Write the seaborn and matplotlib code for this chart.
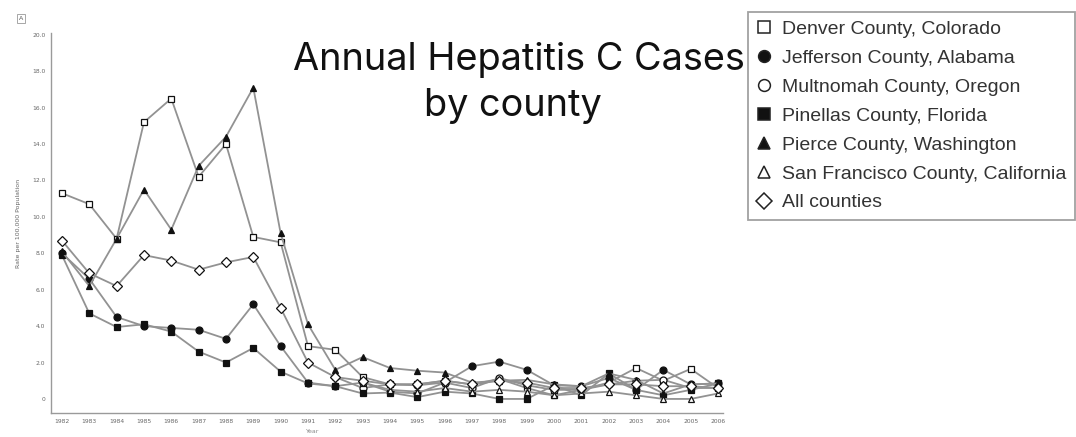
import numpy as np
import pandas as pd
import matplotlib
matplotlib.use("Agg")
import matplotlib.pyplot as plt
from matplotlib.lines import Line2D
import seaborn as sns

# Hepatitis C rate per 100,000 population, 1982-2006
years = list(range(1982, 2007))
nan = np.nan

denver = [11.3, 10.7, 8.8, 15.2, 16.5, 12.2, 14.0, 8.9, 8.6, 2.9, 2.7, 1.2, 0.8, 0.8,
          1.0, 0.8, 1.1, 0.6, 0.2, 0.5, 0.9, 1.7, 1.0, 1.65, 0.6]
jefferson = [8.0, 6.6, 4.5, 4.0, 3.9, 3.8, 3.3, 5.2, 2.9, 0.9, 0.7, 0.9, 0.4, 0.3,
             0.9, 1.8, 2.05, 1.6, 0.75, 0.7, 1.15, 0.5, 1.6, 0.8, 0.85]
multnomah = [nan, nan, nan, nan, nan, nan, nan, nan, nan, nan, 1.2, 0.6, 0.8, 0.75,
             0.9, 0.6, 1.15, 0.75, 0.5, 0.5, 0.8, 1.0, 1.05, 0.6, 0.6]
pinellas = [7.9, 4.7, 3.95, 4.1, 3.7, 2.6, 2.0, 2.8, 1.5, 0.85, 0.7, 0.3, 0.35, 0.1,
            0.4, 0.3, 0.0, 0.0, 0.75, 0.2, 1.4, 0.5, 0.2, 0.5, 0.85]
pierce = [8.1, 6.2, 8.8, 11.5, 9.3, 12.8, 14.4, 17.1, 9.1, 4.1, 1.6, 2.3, 1.7, 1.55,
          1.45, 0.9, 1.0, 1.05, 0.8, 0.7, 1.4, 1.05, 0.3, 0.8, 0.85]
san_francisco = [nan, nan, nan, nan, nan, nan, nan, nan, nan, nan, nan, 0.9, 0.5, 0.4,
                 0.6, 0.4, 0.5, 0.4, 0.2, 0.3, 0.4, 0.2, 0.0, 0.0, 0.3]
all_counties = [8.7, 6.9, 6.2, 7.9, 7.6, 7.1, 7.5, 7.8, 5.0, 2.0, 1.2, 1.0, 0.8, 0.8,
                1.0, 0.8, 1.0, 0.9, 0.6, 0.6, 0.8, 0.8, 0.7, 0.7, 0.6]

counties = ["Denver County, Colorado", "Jefferson County, Alabama",
            "Multnomah County, Oregon", "Pinellas County, Florida",
            "Pierce County, Washington", "San Francisco County, California",
            "All counties"]
series = [denver, jefferson, multnomah, pinellas, pierce, san_francisco, all_counties]

# marker shape, face colour, size for each county
styles = {
    "Denver County, Colorado": ("s", "white", 5.0),
    "Jefferson County, Alabama": ("o", "#111111", 5.0),
    "Multnomah County, Oregon": ("o", "white", 5.0),
    "Pinellas County, Florida": ("s", "#111111", 4.6),
    "Pierce County, Washington": ("^", "#111111", 4.6),
    "San Francisco County, California": ("^", "white", 4.6),
    "All counties": ("D", "white", 4.6),
}

df = pd.concat(
    [pd.DataFrame({"year": years, "rate": vals, "county": name})
     for name, vals in zip(counties, series)],
    ignore_index=True,
).dropna()

sns.set_style("white")
plt.rcParams["font.family"] = ["DejaVu Sans"]

fig = plt.figure(figsize=(10.76, 4.37), dpi=100)
ax = fig.add_axes([0.0474, 0.055, 0.6245, 0.8695])

line_gray = "#929292"
for name in counties:
    m, fc, ms = styles[name]
    sns.lineplot(data=df[df["county"] == name], x="year", y="rate", ax=ax,
                 color=line_gray, linewidth=1.3, marker=m, markersize=ms,
                 markerfacecolor=fc, markeredgecolor="#111111",
                 markeredgewidth=0.9, errorbar=None, legend=False)

ax.set_xlim(1981.6, 2006.18)
ax.set_ylim(-0.77, 20.1)
ax.set_xticks(years)
ax.set_xticklabels([str(y) for y in years], fontsize=4.3, color="#666666")
yticks = list(range(0, 21, 2))
ax.set_yticks(yticks)
ax.set_yticklabels(["0"] + [f"{t:.1f}" for t in yticks[1:]], fontsize=4.3,
                   color="#666666")
ax.tick_params(axis="both", length=2, width=0.6, color="#999999", pad=2)
for side in ("top", "right"):
    ax.spines[side].set_visible(False)
for side in ("left", "bottom"):
    ax.spines[side].set_color("#9a9a9a")
    ax.spines[side].set_linewidth(1.0)
ax.set_xlabel("")
ax.set_ylabel("Rate per 100,000 Population", fontsize=4.5, color="#666666",
              labelpad=8)

# panel letter
fig.text(0.0195, 0.957, "A", fontsize=4.5, color="#555555", ha="center",
         va="center",
         bbox=dict(boxstyle="square,pad=0.35", fc="white", ec="#999999", lw=0.6))

# axis caption at the bottom edge
fig.text(0.291, 0.006, "Year", fontsize=4.5, color="#888888", ha="center",
         va="bottom")

title_font = ["Inter", "DejaVu Sans"]
fig.text(0.482, 0.862, "Annual Hepatitis C Cases", fontsize=27.3,
         family=title_font, color="#111111", ha="center", va="center")
fig.text(0.477, 0.757, "by county", fontsize=27.3,
         family=title_font, color="#111111", ha="center", va="center")

handles = []
for name in counties:
    m, fc, ms = styles[name]
    handles.append(Line2D([], [], linestyle="none", marker=m, markersize=8.5,
                          markerfacecolor=fc if fc == "white" else "#111111",
                          markeredgecolor="#222222", markeredgewidth=1.1,
                          label=name))
leg = fig.legend(handles=handles, loc="upper left",
                 bbox_to_anchor=(0.695, 0.973), frameon=True, fancybox=False,
                 prop={"family": ["Liberation Sans", "DejaVu Sans"],
                       "size": 14.0},
                 labelcolor="#333333", handlelength=0.8, handletextpad=0.5,
                 labelspacing=0.58, borderpad=0.45, borderaxespad=0)
leg.get_frame().set_edgecolor("#8a8a8a")
leg.get_frame().set_linewidth(1.3)

fig.savefig("out.png", dpi=100)
